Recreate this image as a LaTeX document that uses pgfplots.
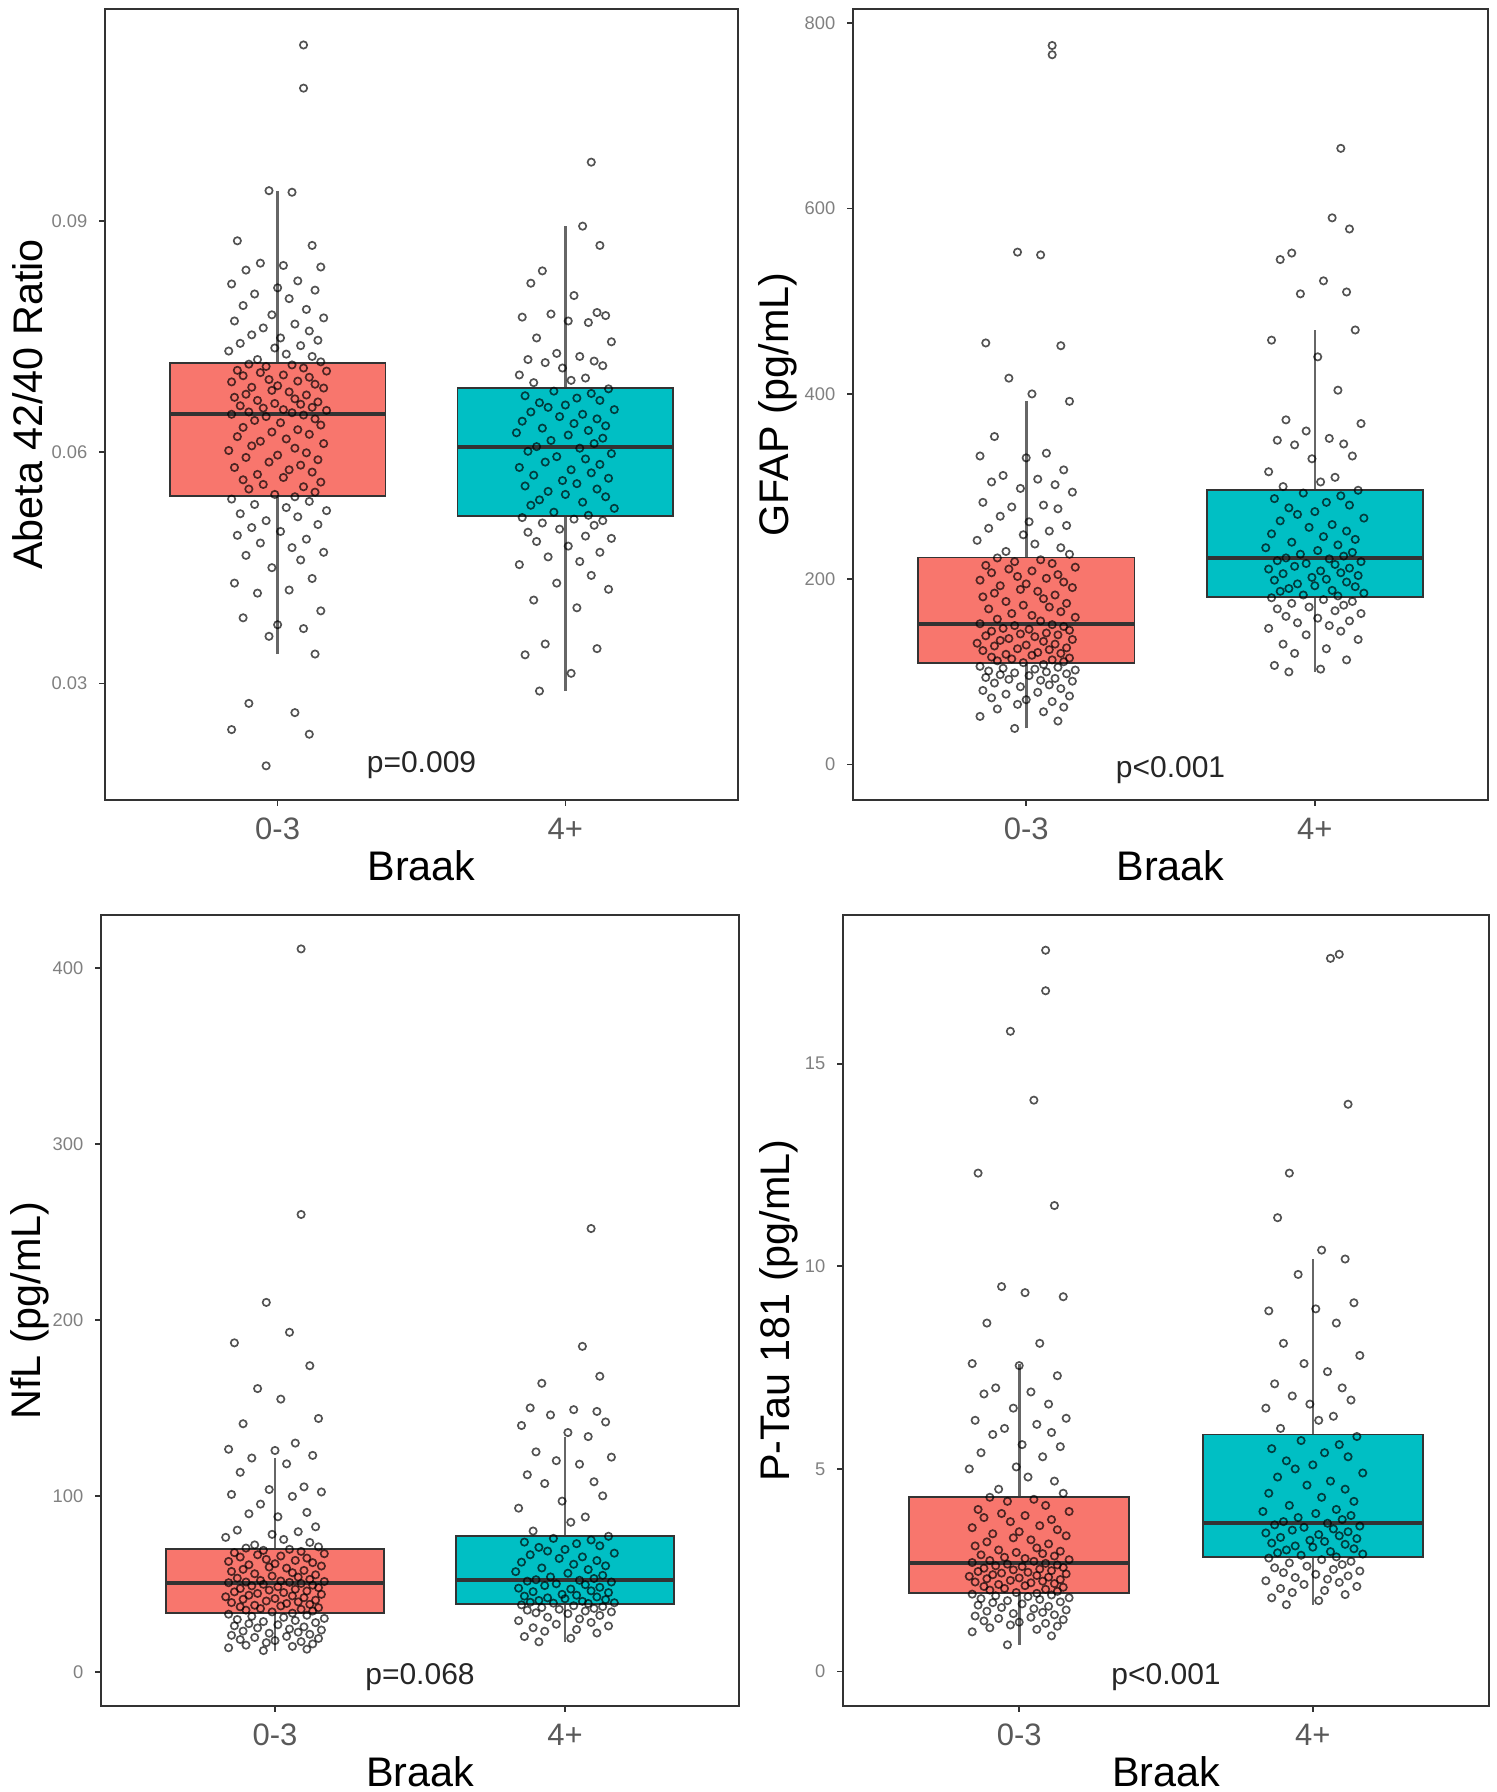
\documentclass[border=0pt]{standalone}
\usepackage{fontspec}
\setmainfont{Liberation Sans}
\usepackage{pgfplots}
\usepackage{pgfplotstable}
\pgfplotsset{compat=1.18}
\definecolor{cred}{HTML}{F8766D}
\definecolor{ccyan}{HTML}{00BFC4}
\definecolor{grey20}{HTML}{333333}

% Braak 0-3 (x = jittered position)
\pgfplotstableread{
x ab gf nf pt
1.09 0.1128 776 411 17.8
1.09 0.1072 766 260 16.8
0.97 0.0939 553 210 15.8
1.05 0.0937 550 193 14.1
0.86 0.0874 455 187 12.3
1.12 0.0868 452 174 11.5
0.94 0.0845 417 161 9.5
1.02 0.0842 400 155 9.35
1.15 0.0840 392 144 9.25
0.89 0.0836 354 141 8.6
1.07 0.0822 336 130 8.1
0.84 0.0818 333 126.5 7.6
1.00 0.0813 331 125.8 7.55
1.13 0.0810 318 123 7.3
0.92 0.0805 312 121.5 7.0
1.04 0.0799 308 118.2 6.9
0.88 0.0790 305 113.4 6.85
1.10 0.0785 302 105.1 6.6
0.98 0.0778 298 103.6 6.5
1.16 0.0774 294 102.2 6.25
0.85 0.0770 283 100.8 6.2
1.06 0.0766 280 99.7 6.1
0.95 0.0761 278 95.3 6.0
1.11 0.0757 276 90.6 5.9
0.91 0.0752 268 89.8 5.85
1.01 0.0748 262 88.1 5.6
1.14 0.0745 258 82.4 5.55
0.87 0.0741 255 80.5 5.4
1.08 0.0738 252 79.6 5.3
0.99 0.0735 248 78.1 5.05
0.83 0.0731 242 76.4 5.0
1.03 0.0727 238 75.2 4.8
1.12 0.0724 234 73.5 4.7
0.93 0.0720 230 72.1 4.5
1.15 0.0717 227 71.0 4.4
0.90 0.0714 223 70.3 4.30
1.05 0.0713 221 69.6 4.25
0.96 0.0711 219 69.0 4.2
1.09 0.0709 217 68.4 4.1
0.86 0.0706 215 67.7 4.0
1.17 0.0705 213 67.1 3.95
0.94 0.0703 211 66.5 3.9
1.02 0.0700 209 65.8 3.85
0.88 0.0699 207 65.2 3.8
1.11 0.0697 205 64.6 3.75
0.97 0.0694 203 63.9 3.7
1.07 0.0692 201 63.3 3.6
0.84 0.0691 199 62.7 3.55
1.13 0.0688 197 62.0 3.5
1.00 0.0686 195 61.4 3.45
0.91 0.0684 193 60.8 3.4
1.16 0.0683 191 60.1 3.35
0.98 0.0680 189 59.5 3.3
1.04 0.0678 187 58.9 3.25
0.89 0.0675 185 58.2 3.2
1.10 0.0674 183 57.6 3.15
0.85 0.0671 181 57.0 3.1
1.06 0.0669 179 56.3 3.05
0.93 0.0667 176 55.7 3.0
1.14 0.0665 174 55.1 2.97
0.99 0.0663 172 54.4 2.94
1.08 0.0662 170 53.8 2.91
0.87 0.0660 168 53.2 2.88
1.12 0.0658 165 52.5 2.85
0.95 0.0657 163 51.9 2.82
1.02 0.0655 161 51.6 2.79
1.17 0.0654 159 51.3 2.76
0.90 0.0652 157 51.0 2.74
1.05 0.0651 155 50.8 2.72
0.84 0.0649 152 50.6 2.69
1.09 0.0648 151 50.2 2.67
0.96 0.0646 150 49.7 2.65
1.13 0.0643 149 49.2 2.63
0.92 0.0641 147 48.8 2.61
1.01 0.0638 146 48.3 2.59
1.15 0.0635 145 47.8 2.57
0.88 0.0632 144 47.3 2.55
1.07 0.0629 142 46.9 2.53
0.98 0.0626 141 46.4 2.51
1.11 0.0623 140 45.9 2.49
0.86 0.0620 139 45.4 2.47
1.03 0.0617 138 45.0 2.45
0.94 0.0614 136 44.5 2.43
1.16 0.0611 135 44.0 2.41
0.91 0.0608 134 43.5 2.39
1.06 0.0605 133 43.1 2.37
0.83 0.0602 131 42.6 2.35
1.10 0.0599 130 42.1 2.33
1.00 0.0596 129 41.6 2.31
0.89 0.0593 128 41.2 2.29
1.14 0.0590 126 40.7 2.27
0.97 0.0587 125 40.2 2.25
1.08 0.0583 124 39.7 2.23
0.85 0.0580 123 39.3 2.21
1.04 0.0577 121 38.8 2.19
1.12 0.0574 120 38.3 2.17
0.93 0.0571 119 37.8 2.15
1.02 0.0567 118 37.4 2.12
0.88 0.0564 116 36.9 2.10
1.15 0.0561 115 36.4 2.08
0.95 0.0558 114 35.9 2.05
1.09 0.0555 113 35.5 2.03
0.90 0.0552 112 35.0 2.01
1.13 0.0548 111 34.5 1.98
0.99 0.0545 110 34.0 1.95
1.06 0.0542 108 33.3 1.93
0.84 0.0539 106 32.7 1.91
1.11 0.0536 105 32.1 1.89
0.92 0.0532 104 31.5 1.87
1.03 0.0528 103 30.9 1.85
1.17 0.0524 102 30.3 1.82
0.87 0.0520 101 29.7 1.80
1.07 0.0516 100 29.1 1.78
0.96 0.0511 99 28.5 1.75
1.14 0.0506 98 27.9 1.72
0.91 0.0502 97 27.3 1.70
1.01 0.0497 96 26.7 1.67
0.86 0.0492 94 26.1 1.64
1.10 0.0487 93 25.5 1.61
0.94 0.0482 92 24.9 1.58
1.05 0.0476 91 24.3 1.55
1.16 0.0470 90 23.7 1.52
0.89 0.0466 88 23.1 1.49
1.08 0.0460 86 22.5 1.46
0.98 0.0450 84 21.9 1.43
1.12 0.0436 82 21.3 1.40
0.85 0.0430 80 20.7 1.37
1.04 0.0421 78 20.1 1.34
0.93 0.0417 76 19.5 1.31
1.15 0.0394 74 18.9 1.28
0.88 0.0385 72 18.3 1.25
1.00 0.0376 70 17.7 1.22
1.09 0.0371 68 17.1 1.19
0.97 0.0361 65 16.5 1.15
1.13 0.0338 62 15.8 1.12
0.90 0.0274 60 15.1 1.08
1.06 0.0262 57 14.4 1.04
0.84 0.0240 52 13.6 0.98
1.11 0.0234 47 12.8 0.88
0.96 0.0193 39 12.0 0.66
}\gA

% Braak 4+
\pgfplotstableread{
x ab gf nf pt
2.09 0.0976 665 252 17.7
2.06 0.0893 590 185 17.6
2.12 0.0868 578 168 14.0
1.92 0.0835 552 164 12.3
1.88 0.0819 545 150 11.2
2.03 0.0803 522 149 10.4
2.11 0.0781 510 148 10.18
1.95 0.0779 508 146 9.8
2.14 0.0777 469 142 9.1
1.85 0.0775 458 140 8.9
2.01 0.0770 440 136 8.95
2.08 0.0768 404 133.7 8.6
1.90 0.0748 372 125 8.1
2.16 0.0743 368 122 7.8
1.97 0.0728 360 120 7.6
2.05 0.0724 352 118 7.4
1.87 0.0720 350 112 7.1
2.10 0.0718 346 108 7.0
1.93 0.0716 345 107 6.8
2.13 0.0712 333 100 6.7
1.99 0.0709 330 97 6.6
1.84 0.0700 316 93 6.5
2.07 0.0696 310 88 6.3
2.02 0.0693 305 85 6.2
1.89 0.0690 300 80 6.0
2.15 0.0682 296 77.0 5.8
1.96 0.0679 293 75.8 5.7
2.09 0.0676 290 74.9 5.6
1.86 0.0673 287 73.7 5.5
2.04 0.0670 283 72.8 5.4
2.12 0.0667 280 71.6 5.3
1.91 0.0664 277 70.7 5.2
2.00 0.0661 273 69.5 5.1
1.94 0.0658 270 68.6 5.0
2.17 0.0655 266 67.4 4.9
1.88 0.0652 263 66.5 4.8
2.06 0.0649 259 65.3 4.7
1.98 0.0646 256 64.4 4.6
2.11 0.0643 252 63.2 4.5
1.85 0.0640 249 62.3 4.4
2.03 0.0637 246 61.1 4.3
2.14 0.0634 243 60.2 4.2
1.92 0.0631 240 59.0 4.1
2.08 0.0628 237 58.1 4.0
1.83 0.0625 234 56.9 3.95
2.01 0.0622 231 56.0 3.9
2.13 0.0618 229 54.8 3.85
1.95 0.0615 227 53.9 3.8
2.10 0.0611 225 53.0 3.75
1.90 0.0607 223 52.3 3.7
2.05 0.0605 222 52.0 3.66
1.87 0.0601 220 51.5 3.62
2.16 0.0598 219 51.0 3.59
1.97 0.0594 217 50.0 3.56
2.07 0.0591 216 49.5 3.52
1.93 0.0587 214 49.0 3.49
2.12 0.0584 212 48.0 3.45
1.84 0.0580 211 47.5 3.42
2.02 0.0577 209 47.0 3.38
2.09 0.0573 207 46.0 3.35
1.89 0.0570 206 45.5 3.31
2.15 0.0566 204 45.0 3.28
1.99 0.0563 202 44.0 3.24
2.04 0.0559 200 43.5 3.21
1.86 0.0556 199 43.0 3.17
2.11 0.0552 197 42.5 3.14
1.94 0.0549 195 42.0 3.10
2.00 0.0545 193 41.5 3.07
2.14 0.0542 192 41.0 3.03
1.91 0.0538 190 40.5 3.00
2.06 0.0535 188 40.0 2.96
1.88 0.0531 187 39.5 2.93
2.17 0.0527 185 39.2 2.90
1.96 0.0522 183 39.0 2.87
2.08 0.0518 182 38.8 2.83
1.85 0.0515 180 38.0 2.80
2.03 0.0513 178 37.5 2.76
2.13 0.0511 176 37.0 2.72
1.92 0.0508 174 36.5 2.68
2.10 0.0505 172 36.0 2.64
1.98 0.0500 170 35.5 2.60
1.87 0.0496 168 35.0 2.56
2.07 0.0491 166 34.5 2.52
2.16 0.0488 163 34.0 2.48
1.90 0.0484 160 33.5 2.44
2.01 0.0478 158 33.0 2.40
2.12 0.0470 155 32.0 2.36
1.94 0.0464 153 31.0 2.32
2.05 0.0458 150 30.0 2.28
1.84 0.0454 147 29.0 2.24
2.09 0.0440 144 28.0 2.20
1.97 0.0430 140 27.0 2.15
2.15 0.0422 135 26.0 2.10
1.89 0.0408 130 25.0 2.05
2.04 0.0398 125 24.0 2.00
1.93 0.0351 120 23.0 1.95
2.11 0.0345 113 22.0 1.90
1.86 0.0337 107 20.0 1.82
2.02 0.0313 103 19.0 1.75
1.91 0.0290 100 17.0 1.65
}\gB

\pgfplotsset{
  panel/.style={
    scale only axis, height=237.3pt, anchor=south west,
    xmin=0.4, xmax=2.6, xtick={1,2}, xticklabels={0-3,4+},
    tick pos=left, tick align=outside, major tick length=1.8pt,
    axis line style={draw=grey20, line width=0.6pt},
    major tick style={draw=grey20, line width=0.5pt},
    xticklabel style={font=\fontsize{9.3}{11}\selectfont, text=black!65},
    yticklabel style={font=\fontsize{5.5}{6.5}\selectfont, text=black!50},
    xlabel={Braak},
    xlabel style={font=\fontsize{12.4}{14}\selectfont, at={(axis description cs:0.5,-0.083)}, anchor=center},
    ylabel style={font=\fontsize{12.4}{14}\selectfont, anchor=center},
    /pgf/number format/assume math mode=true,
    clip=false,
  },
  pts/.style={only marks, mark=o, mark size=1.1pt,
    mark options={draw=black, draw opacity=0.68, line width=0.5pt}},
}
\tikzset{ptxt/.style={font=\fontsize{9}{10}\selectfont, text=black!85, anchor=base}}

% #1 left, #2 centre, #3 right, #4 lower whisker, #5 Q1, #6 median, #7 Q3, #8 upper whisker, #9 colour
\newcommand{\bxp}[9]{%
  \addplot[draw=black!60, line width=0.8pt] coordinates {(#2,#4) (#2,#5)};
  \addplot[draw=black!60, line width=0.8pt] coordinates {(#2,#7) (#2,#8)};
  \addplot[fill=#9, draw=grey20, line width=0.55pt] coordinates {(#1,#5) (#3,#5) (#3,#7) (#1,#7)} -- cycle;
  \addplot[draw=grey20, line width=1.2pt] coordinates {(#1,#6) (#3,#6)};
}

\begin{document}
\begin{tikzpicture}
\path[use as bounding box] (0,0) rectangle (449.1pt,537.6pt);

% Top left: Abeta
\begin{axis}[panel, at={(31.5pt,297.6pt)}, width=189.9pt,
  ymin=0.01487, ymax=0.11747, ytick={0.03,0.06,0.09}, yticklabels={0.03,0.06,0.09},
  ylabel={Abeta 42/40 Ratio}, ylabel style={at={(axis description cs:-0.122,0.5)}}]
\bxp{0.625}{1}{1.375}{0.0338}{0.0543}{0.0649}{0.0715}{0.0939}{cred}
\bxp{1.625}{2}{2.375}{0.0290}{0.0517}{0.0606}{0.0683}{0.0893}{ccyan}
\addplot[pts] table[x=x, y=ab] {\gA};
\addplot[pts] table[x=x, y=ab] {\gB};
\node[ptxt] at (axis cs:1.5,0.0184) {p=0.009};
\end{axis}

% Top right: GFAP
\begin{axis}[panel, at={(255.9pt,297.6pt)}, width=190.5pt,
  ymin=-38.2, ymax=815.4, ytick={0,200,400,600,800}, yticklabels={0,200,400,600,800},
  ylabel={GFAP (pg/mL)}, ylabel style={at={(axis description cs:-0.118,0.5)}}]
\bxp{0.625}{1}{1.375}{39}{109.2}{151.2}{223.5}{392}{cred}
\bxp{1.625}{2}{2.375}{100}{181}{222.4}{296.4}{469}{ccyan}
\addplot[pts] table[x=x, y=gf] {\gA};
\addplot[pts] table[x=x, y=gf] {\gB};
\node[ptxt] at (axis cs:1.5,-14) {p<0.001};
\end{axis}

% Bottom left: NfL
\begin{axis}[panel, at={(30.3pt,25.8pt)}, width=191.4pt,
  ymin=-19.5, ymax=430.3, ytick={0,100,200,300,400}, yticklabels={0,100,200,300,400},
  ylabel={NfL (pg/mL)}, ylabel style={at={(axis description cs:-0.111,0.5)}}]
\bxp{0.625}{1}{1.375}{12}{33.5}{50.4}{70}{121.5}{cred}
\bxp{1.625}{2}{2.375}{17}{38.7}{52.1}{77.1}{133.7}{ccyan}
\addplot[pts] table[x=x, y=nf] {\gA};
\addplot[pts] table[x=x, y=nf] {\gB};
\node[ptxt] at (axis cs:1.5,-7.5) {p=0.068};
\end{axis}

% Bottom right: P-Tau 181
\begin{axis}[panel, at={(252.9pt,25.8pt)}, width=193.8pt,
  ymin=-0.85, ymax=18.67, ytick={0,5,10,15}, yticklabels={0,5,10,15},
  ylabel={P-Tau 181 (pg/mL)}, ylabel style={at={(axis description cs:-0.099,0.5)}}]
\bxp{0.625}{1}{1.375}{0.66}{1.94}{2.68}{4.31}{7.6}{cred}
\bxp{1.625}{2}{2.375}{1.65}{2.82}{3.67}{5.85}{10.18}{ccyan}
\addplot[pts] table[x=x, y=pt] {\gA};
\addplot[pts] table[x=x, y=pt] {\gB};
\node[ptxt] at (axis cs:1.5,-0.33) {p<0.001};
\end{axis}
\end{tikzpicture}
\end{document}
